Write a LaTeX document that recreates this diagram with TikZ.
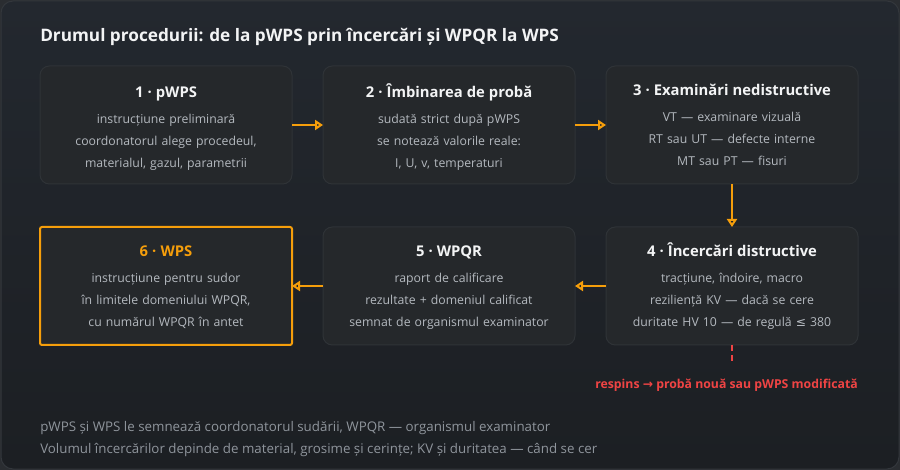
\documentclass[tikz,border=0pt]{standalone}
\usepackage{fontspec}
\setmainfont{Open Sans}
\newfontfamily\symfont{DejaVu Sans}
\usetikzlibrary{positioning,arrows.meta,backgrounds,calc}
\definecolor{bgout}{HTML}{2A2D31}
\definecolor{bgtop}{HTML}{23282F}
\definecolor{bgbot}{HTML}{1C1F23}
\definecolor{frameline}{HTML}{33373C}
\definecolor{boxfill}{HTML}{25282B}
\definecolor{boxline}{HTML}{2F3337}
\definecolor{headtxt}{HTML}{F3F4F5}
\definecolor{bodytxt}{HTML}{B4B9BF}
\definecolor{notetxt}{HTML}{8F959C}
\definecolor{accent}{HTML}{F59E0B}
\definecolor{reject}{HTML}{EF4444}
\tikzstyle{pbox}=[rectangle, rounded corners=7pt, draw=boxline, fill=boxfill, line width=0.75pt,
                  inner sep=0pt, outer sep=0pt, text width=189pt, minimum height=88.5pt,
                  align=center, text=bodytxt, font=\fontsize{9.2}{16.5}\selectfont]
\tikzstyle{obox}=[pbox, rounded corners=1.5pt, draw=accent, line width=1.5pt]
\tikzstyle{parrow}=[-{Triangle[open,length=6pt,width=7.5pt]}, draw=accent, line width=1.8pt]
\tikzstyle{rline}=[-, draw=reject, line width=1.5pt, dash pattern=on 4.5pt off 3pt]
\tikzstyle{rtext}=[inner sep=0pt, text=reject, font=\fontsize{9.2}{12}\selectfont\bfseries]
\tikzstyle{ntext}=[inner sep=0pt, text=notetxt, align=left, font=\fontsize{10}{16.5}\selectfont]
\newcommand{\boxhead}[2][headtxt]{{\rule{0pt}{13pt}\fontsize{11.1}{14}\selectfont\bfseries\color{#1}#2}\\[3pt]}

\begin{document}
\begin{tikzpicture}[x=0.75pt,y=-0.75pt,node distance=0mm]

\fill[bgout] (0,0) rectangle (900,470);
\draw[frameline, top color=bgtop, bottom color=bgbot, rounded corners=9pt, line width=0.75pt]
  (1,1) rectangle (899,469);

\node (TITLE) [anchor=base west, inner sep=0pt, text=headtxt,
  font=\fontsize{12.9}{16}\selectfont\bfseries] at (40,42)
  {Drumul procedurii: de la pWPS prin încercări și WPQR la WPS};

% first row
\node (PWPS) [pbox, anchor=north west] at (40,66) {\boxhead{1 · pWPS}
instrucțiune preliminară\\ coordonatorul alege procedeul,\\ materialul, gazul, parametrii};

\node (PROBA) [pbox, right=23.25pt of PWPS] {\boxhead{2 · Îmbinarea de probă}
sudată strict după pWPS\\ se notează valorile reale:\\ I, U, v, temperaturi};

\node (NDT) [pbox, right=23.25pt of PROBA] {\boxhead{3 · Examinări nedistructive}
VT — examinare vizuală\\ RT sau UT — defecte interne\\ MT sau PT — fisuri\strut};

% second row, right to left
\node (DT) [pbox, below=32.25pt of NDT] {\boxhead{4 · Încercări distructive}
tracțiune, îndoire, macro\\ reziliență KV — dacă se cere\\ duritate HV 10 — de regulă {\symfont ≤} 380\strut};

\node (WPQR) [pbox, left=23.25pt of DT] {\boxhead{5 · WPQR}
raport de calificare\\ rezultate + domeniul calificat\\ semnat de organismul examinator\strut};

\node (WPS) [obox, left=23.25pt of WPQR] {\boxhead[accent]{6 · WPS}
instrucțiune pentru sudor\\ în limitele domeniului WPQR,\\ cu numărul WPQR în antet\strut};

\draw[parrow] (PWPS) -- (PROBA);
\draw[parrow] (PROBA) -- (NDT);
\draw[parrow] (NDT) -- (DT);
\draw[parrow] (DT) -- (WPQR);
\draw[parrow] (WPQR) -- (WPS);

% rejected branch
\coordinate[below=14.25pt of DT.south] (REJEND);
\draw[rline] (DT.south) -- (REJEND);
\node (REJ) [rtext, below=25pt of DT.south east, anchor=north east]
  {respins {\symfont →} probă nouă sau pWPS modificată};

% notes
\node (NOTES) [ntext, anchor=north west] at (40,421)
  {pWPS și WPS le semnează coordonatorul sudării, WPQR — organismul examinator\\
   Volumul încercărilor depinde de material, grosime și cerințe; KV și duritatea — când se cer};

\end{tikzpicture}
\end{document}
